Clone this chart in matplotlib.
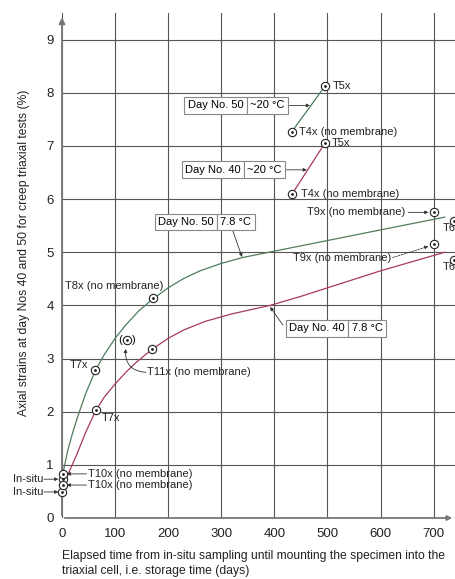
import matplotlib
matplotlib.use("Agg")
import matplotlib.pyplot as plt

plt.rcParams['font.family'] = ['Liberation Sans', 'DejaVu Sans']

# fitted curves
green_x = [2, 11, 20, 30, 45, 63, 80, 100, 120, 145, 171, 200, 230, 260, 300, 340, 400, 500, 600, 721]
green_y = [0.85, 1.28, 1.60, 1.92, 2.35, 2.78, 3.08, 3.38, 3.63, 3.90, 4.12, 4.33, 4.51, 4.65, 4.79, 4.90, 5.02, 5.22, 5.42, 5.66]
red_x = [6, 17, 28, 45, 64, 80, 100, 120, 140, 169, 200, 230, 270, 320, 392, 450, 500, 600, 721]
red_y = [0.70, 0.95, 1.20, 1.62, 2.03, 2.28, 2.52, 2.74, 2.93, 3.17, 3.38, 3.54, 3.70, 3.84, 4.00, 4.17, 4.33, 4.65, 5.00]

# ~20 degC lines (T4x -> T5x)
warm50_x = [433, 495]
warm50_y = [7.27, 8.12]
warm40_x = [433, 495]
warm40_y = [6.09, 7.05]

# test points
pts_x = [1, 0, 2, 2, 63, 171, 64, 169, 122, 700, 700, 433, 495, 433, 495, 738, 738]
pts_y = [0.73, 0.49, 0.83, 0.62, 2.78, 4.13, 2.03, 3.18, 3.35, 5.75, 5.15, 7.27, 8.12, 6.09, 7.05, 5.58, 4.85]

xticks = [0, 100, 200, 300, 400, 500, 600, 700]
yticks = [0, 1, 2, 3, 4, 5, 6, 7, 8, 9]

GREEN = '#4f7d5c'
RED = '#a63a5c'
LEAD = '#333333'

fig = plt.figure(figsize=(4.56, 5.79), dpi=100)
ax = fig.add_axes([62/456, 61/579, 394/456, 505/579])
ax.set_xlim(0, 742)
ax.set_ylim(0, 9.5)
for s in ax.spines.values():
    s.set_visible(False)

ax.set_xticks(xticks)
ax.set_yticks(yticks)
ax.tick_params(length=0, labelsize=9.5, colors='#222222')
ax.tick_params(axis='x', pad=7)
ax.tick_params(axis='y', pad=6)
ax.grid(True, color='#555555', lw=0.8)
ax.set_axisbelow(True)

# axes with arrows
ax.annotate('', xy=(0, 9.47), xytext=(0, 0), annotation_clip=False,
            arrowprops=dict(arrowstyle='-|>', color='#777777', lw=1.3, mutation_scale=9))
ax.annotate('', xy=(740, 0), xytext=(0, 0), annotation_clip=False,
            arrowprops=dict(arrowstyle='-|>', color='#777777', lw=1.3, mutation_scale=7))

ax.plot(green_x, green_y, color=GREEN, lw=0.9)
ax.plot(red_x, red_y, color=RED, lw=0.9)
ax.plot(warm50_x, warm50_y, color=GREEN, lw=0.9)
ax.plot(warm40_x, warm40_y, color=RED, lw=0.9)

ax.plot(pts_x, pts_y, 'o', ms=6, mfc='white', mec='#222222', mew=0.8, clip_on=False, zorder=5)
ax.plot(pts_x, pts_y, '.', ms=2, color='#222222', clip_on=False, zorder=6)

fs = 8
def label(x, y, s, ha='left'):
    ax.text(x, y, s, ha=ha, va='center', fontsize=fs, color='#222222', clip_on=False)

def lead(x0, y0, x1, y1, ls='-', cs='arc3'):
    ax.annotate('', xy=(x1, y1), xytext=(x0, y0), annotation_clip=False,
                arrowprops=dict(arrowstyle='-|>', color=LEAD, lw=0.6, ls=ls,
                                mutation_scale=5, shrinkA=0, shrinkB=0,
                                connectionstyle=cs))

def box(xd, y, left, right):
    bb = dict(boxstyle='square,pad=0.3', fc='white', ec='#888888', lw=0.8)
    ax.annotate(left, (xd, y), xytext=(-0.3*fs, 0), textcoords='offset points',
                ha='right', va='center', fontsize=fs, bbox=bb, zorder=4)
    ax.annotate(right, (xd, y), xytext=(0.3*fs, 0), textcoords='offset points',
                ha='left', va='center', fontsize=fs, bbox=bb, zorder=4)

label(510, 8.12, 'T5x')
label(446, 7.27, 'T4x (no membrane)')
label(508, 7.05, 'T5x')
label(450, 6.09, 'T4x (no membrane)')
label(6, 4.36, 'T8x (no membrane)')
label(50, 2.87, 'T7x', ha='right')
label(75, 1.88, 'T7x')
label(160, 2.74, 'T11x (no membrane)')
label(646, 5.75, 'T9x (no membrane)', ha='right')
label(620, 4.89, 'T9x (no membrane)', ha='right')
label(717, 5.45, 'T6x')
label(717, 4.72, 'T6x')
label(-36, 0.73, 'In-situ', ha='right')
label(-36, 0.49, 'In-situ', ha='right')
label(49, 0.83, 'T10x (no membrane)')
label(49, 0.62, 'T10x (no membrane)')
ax.annotate('(', (122, 3.35), xytext=(-5, 0), textcoords='offset points', ha='center', va='center', fontsize=fs)
ax.annotate(')', (122, 3.35), xytext=(5, 0), textcoords='offset points', ha='center', va='center', fontsize=fs)

lead(-34, 0.73, -7, 0.73)
lead(-34, 0.49, -7, 0.49)
lead(46, 0.83, 9, 0.83)
lead(46, 0.62, 9, 0.62)
lead(652, 5.75, 690, 5.75)
lead(623, 4.90, 690, 5.11, ls=(0, (2, 1.5)))
lead(158, 2.74, 120, 3.18, cs='arc3,rad=-0.5')
lead(422, 7.76, 467, 7.76)
lead(416, 6.55, 461, 6.55)
lead(320, 5.45, 339, 4.91)
lead(416, 3.63, 392, 3.97)

box(348, 7.76, 'Day No. 50', '~20 °C')
box(343, 6.55, 'Day No. 40', '~20 °C')
box(292, 5.57, 'Day No. 50', '7.8 °C')
box(539, 3.57, 'Day No. 40', '7.8 °C')

fig.text(24/456, 1 - 253/579, 'Axial strains at day Nos 40 and 50 for creep triaxial tests (%)',
         rotation=90, ha='center', va='center', fontsize=8.7, color='#222222')
fig.text(62/456, 1 - 550/579,
         'Elapsed time from in-situ sampling until mounting the specimen into the\n'
         'triaxial cell, i.e. storage time (days)',
         ha='left', va='top', fontsize=8.7, color='#222222', linespacing=1.3)

fig.savefig('out.png', dpi=100)
